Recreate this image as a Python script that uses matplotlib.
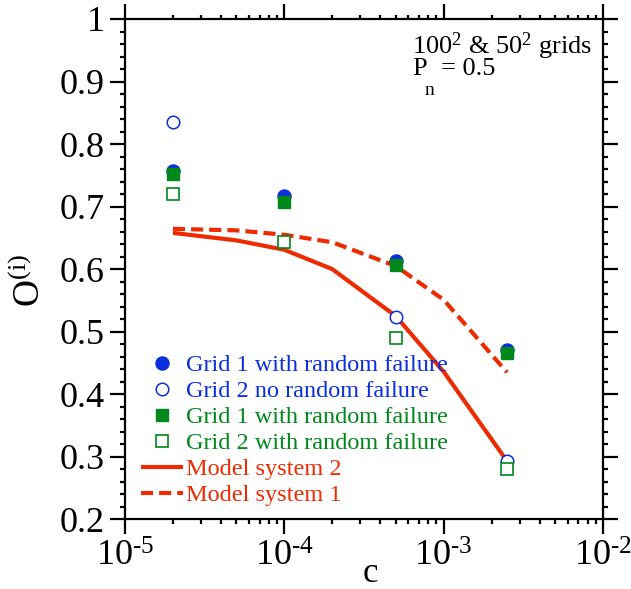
import matplotlib
matplotlib.use('Agg')
import matplotlib.pyplot as plt
from matplotlib.ticker import FixedLocator, MultipleLocator, NullFormatter, LogLocator

plt.rcParams['font.family'] = ['Liberation Serif', 'DejaVu Serif']
plt.rcParams['mathtext.fontset'] = 'custom'
plt.rcParams['mathtext.rm'] = 'Liberation Serif'
plt.rcParams['mathtext.it'] = 'Liberation Serif:italic'
plt.rcParams['mathtext.bf'] = 'Liberation Serif:bold'

# ---- data ----
c_grid = [2e-5, 1e-4, 5e-4, 2.5e-3]
grid1_rand_blue = [0.757, 0.7165, 0.613, 0.470]
c_grid2_blue = [2e-5, 5e-4, 2.5e-3]
grid2_norand_blue = [0.835, 0.524, 0.293]
grid1_rand_green = [0.7525, 0.707, 0.606, 0.466]
grid2_rand_green = [0.720, 0.643, 0.490, 0.280]

c_model = [2e-5, 5e-5, 1e-4, 2e-4, 5e-4, 1e-3, 2.5e-3]
model_sys2 = [0.658, 0.646, 0.631, 0.600, 0.525, 0.436, 0.293]
model_sys1 = [0.6645, 0.662, 0.655, 0.643, 0.605, 0.551, 0.435]

x_ticks = [1e-5, 1e-4, 1e-3, 1e-2]
x_exponents = ['5', '4', '3', '2']
y_ticks = [0.2, 0.3, 0.4, 0.5, 0.6, 0.7, 0.8, 0.9, 1.0]
y_ticklabels = ['0.2', '0.3', '0.4', '0.5', '0.6', '0.7', '0.8', '0.9', '1']

labels = ['Grid 1 with random failure', 'Grid 2 no random failure',
          'Grid 1 with random failure', 'Grid 2 with random failure',
          'Model system 2', 'Model system 1']

BLUE = '#0a2fdc'
GREEN = '#00881a'
RED = '#ee2a00'
HY = '\u2010'

fig = plt.figure(figsize=(6.31, 5.89), dpi=100)
ax = fig.add_axes([125/631, 1-519.3/589, 478/631, 500.3/589])

ls2, = ax.plot(c_model, model_sys2, '-', color=RED, lw=3.0, solid_capstyle='butt')
ls1, = ax.plot(c_model, model_sys1, color=RED, lw=3.0, linestyle=(0, (2.9, 1.45)),
               dash_capstyle='butt')

h1, = ax.plot(c_grid, grid1_rand_blue, 'o', ms=9.4, mfc=BLUE, mec=BLUE, mew=1.0)
h2, = ax.plot(c_grid2_blue, grid2_norand_blue, 'o', ms=9.0, mfc='white', mec=BLUE, mew=1.1)
h3, = ax.plot(c_grid, grid1_rand_green, 's', ms=9.0, mfc=GREEN, mec=GREEN, mew=1.0)
h4, = ax.plot(c_grid, grid2_rand_green, 's', ms=8.6, mfc='white', mec=GREEN, mew=1.2)

ax.set_xscale('log')
ax.set_xlim(1e-5, 1e-2)
ax.set_ylim(0.2, 1.0)

ax.xaxis.set_major_locator(FixedLocator(x_ticks))
ax.set_xticklabels(['10$^{\\mathrm{' + HY + e + '}}$' for e in x_exponents])
ax.xaxis.set_minor_locator(LogLocator(base=10, subs=range(2, 10), numticks=20))
ax.xaxis.set_minor_formatter(NullFormatter())
ax.yaxis.set_major_locator(FixedLocator(y_ticks))
ax.set_yticklabels(y_ticklabels)
ax.yaxis.set_minor_locator(MultipleLocator(0.02))

for sp in ax.spines.values():
    sp.set_linewidth(1.6)

ax.tick_params(axis='both', which='both', top=True, right=True, width=1.6, direction='out')
ax.tick_params(axis='both', which='major', length=10.5, labelsize=26)
ax.tick_params(axis='both', which='minor', length=3.6)
# shorter ticks on top spine
for tk in ax.xaxis.get_major_ticks():
    tk.tick2line.set_markersize(4.3)
for tk in ax.xaxis.get_minor_ticks():
    tk.tick2line.set_markersize(3.0)
ax.tick_params(axis='x', which='major', pad=5)
ax.tick_params(axis='y', which='major', pad=4)

ax.set_xlabel('c', fontsize=25)
ax.xaxis.set_label_coords((370 - 125) / 478, (519.3 - 557) / 500.3)
ax.set_ylabel('O$^{(\\mathrm{i})}$', fontsize=27)
ax.yaxis.set_label_coords((48 - 125) / 478, (519.3 - 280) / 500.3)

ax.text(0.600, 0.930, '100$^2$ & 50$^2$ grids', transform=ax.transAxes,
        fontsize=19, ha='left', va='baseline')
y_p = (519.3 - 75) / 500.3
y_n = (519.3 - 95) / 500.3
ax.text((412 - 125) / 478, y_p, 'P', transform=ax.transAxes,
        fontsize=19, ha='left', va='baseline')
ax.text((425 - 125) / 478, y_n, 'n', transform=ax.transAxes,
        fontsize=14, ha='left', va='baseline')
ax.text((441 - 125) / 478, y_p, '= 0.5', transform=ax.transAxes,
        fontsize=19, ha='left', va='baseline')

leg = ax.legend([h1, h2, h3, h4, ls2, ls1], labels, loc='upper left',
                bbox_to_anchor=(0.0335, 0.330), frameon=False, fontsize=17.5,
                numpoints=1, handlelength=1.73, handletextpad=0.12,
                labelspacing=0.165, borderpad=0, borderaxespad=0)
for t, col in zip(leg.get_texts(), [BLUE, BLUE, GREEN, GREEN, RED, RED]):
    t.set_color(col)

fig.savefig('out.png', dpi=100)
